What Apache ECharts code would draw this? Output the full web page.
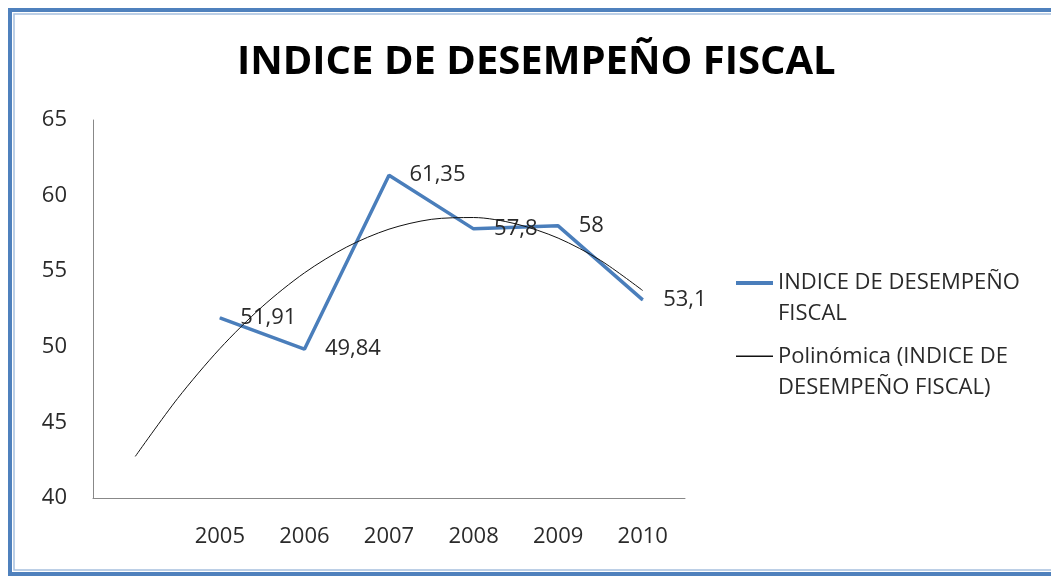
<!DOCTYPE html>
<html lang="es">
<head>
  <meta charset="UTF-8">
  <title>INDICE DE DESEMPEÑO FISCAL</title>
  <script src="https://cdn.jsdelivr.net/npm/echarts@6/dist/echarts.min.js"></script>
  <style>
    html, body {
      margin: 0;
      padding: 0;
      background: #fff;
    }
    #chart {
      width: 1051px;
      height: 579px;
    }
  </style>
</head>
<body>
<div id="chart"></div>
<script>
  // first slot is blank: the trendline starts there, the data does not
  const years = ['', '2005', '2006', '2007', '2008', '2009', '2010'];
  const indice = [null, 51.91, 49.84, 61.35, 57.8, 58, 53.1];
  // polynomial trendline at every half slot (slot 1 = blank, 2 = 2005 ...)
  const trendX = [1, 1.5, 2, 2.5, 3, 3.5, 4, 4.5, 5, 5.5, 6, 6.5, 7];
  const trendY = [42.75, 46.58, 49.88, 52.65, 54.89, 56.6, 57.78, 58.43, 58.55, 58.13, 57.19, 55.72, 53.72];
  const yTicks = [40, 45, 50, 55, 60, 65];

  const font = '"Open Sans", "Noto Sans", sans-serif';
  const comma = v => String(v).replace('.', ',');

  const NAME_A = 'INDICE DE DESEMPEÑO FISCAL';
  const NAME_B = 'Polinómica (INDICE DE DESEMPEÑO FISCAL)';

  echarts.init(document.getElementById('chart')).setOption({
    animation: false,
    textStyle: {fontFamily: font},
    title: {
      text: 'INDICE DE DESEMPEÑO FISCAL',
      left: 232,
      top: 38,
      textStyle: {fontSize: 40, fontWeight: 'bold', color: '#000', fontFamily: font}
    },
    graphic: [{
      type: 'rect',
      shape: {x: 10, y: 10, width: 1080, height: 564},
      style: {fill: 'none', stroke: '#4f81bd', lineWidth: 4}
    }, {
      type: 'rect',
      shape: {x: 14, y: 14, width: 1080, height: 556},
      style: {fill: 'none', stroke: '#a7c0de', lineWidth: 1.5}
    }],
    legend: {
      orient: 'vertical',
      left: 731,
      top: 262,
      itemWidth: 37,
      itemHeight: 34,
      itemGap: 12,
      textStyle: {fontSize: 22, color: '#2a2a2a', lineHeight: 31},
      formatter: function (name) {
        return name === NAME_A
          ? 'INDICE DE DESEMPEÑO\nFISCAL'
          : 'Polinómica (INDICE DE\nDESEMPEÑO FISCAL)';
      },
      // line drawn at the top of the icon box so it sits beside the first text line
      data: [
        {name: NAME_A, icon: 'path://M0,0L37,0L37,4L0,4Z M0,33.9L0.05,33.9L0.05,34L0,34Z', itemStyle: {color: '#4a7ebb'}},
        {name: NAME_B, icon: 'path://M0,1.2L37,1.2L37,2.6L0,2.6Z M0,33.9L0.05,33.9L0.05,34L0,34Z', itemStyle: {color: '#111'}}
      ]
    },
    grid: {left: 93, top: 120, right: 366, bottom: 81},
    xAxis: [{
      type: 'category',
      data: years,
      axisLine: {lineStyle: {color: '#888', width: 1}},
      axisTick: {show: false},
      axisLabel: {fontSize: 22, color: '#2a2a2a', margin: 28}
    }, {
      type: 'value',
      min: 0.5,
      max: 7.5,
      show: false
    }],
    yAxis: {
      type: 'value',
      min: yTicks[0],
      max: yTicks[yTicks.length - 1],
      interval: 5,
      axisLine: {show: true, lineStyle: {color: '#888', width: 1}},
      axisTick: {show: false},
      splitLine: {show: false},
      axisLabel: {fontSize: 22, color: '#2a2a2a', margin: 26}
    },
    series: [{
      name: NAME_B,
      type: 'line',
      xAxisIndex: 1,
      data: trendX.map((x, i) => [x, trendY[i]]),
      smooth: 0.3,
      symbol: 'none',
      lineStyle: {color: '#111', width: 1},
      z: 3
    }, {
      name: NAME_A,
      type: 'line',
      data: indice,
      symbol: 'circle',
      symbolSize: 1,
      itemStyle: {color: '#4a7ebb'},
      lineStyle: {color: '#4a7ebb', width: 3.5},
      label: {
        show: true,
        position: 'right',
        distance: 20,
        fontSize: 22,
        color: '#2a2a2a',
        formatter: p => comma(p.value)
      },
      z: 2
    }]
  });
</script>
</body>
</html>
